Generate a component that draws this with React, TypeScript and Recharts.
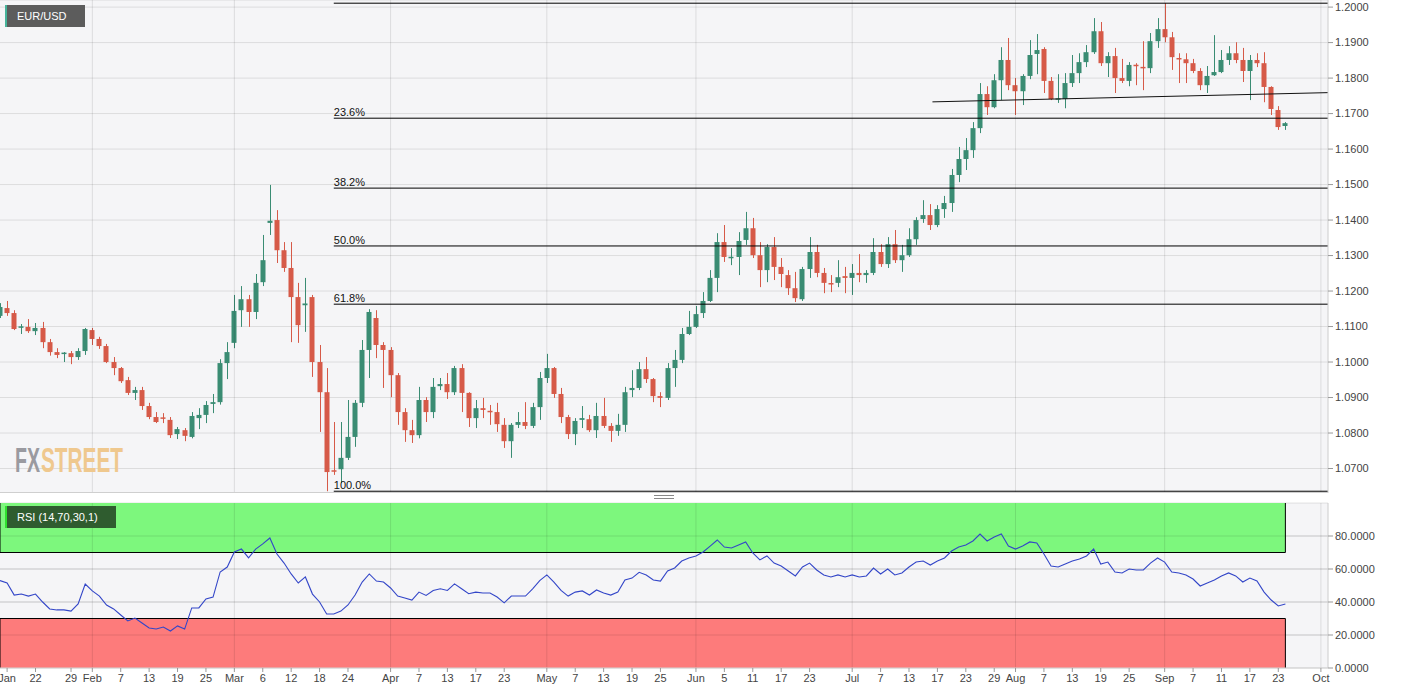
import React from 'react';
import {
  ComposedChart, Bar, Line, XAxis, YAxis, CartesianGrid, ReferenceLine, ReferenceArea,
} from 'recharts';

// ---- Data (EUR/USD daily, 15 Jan 2020 .. 24 Sep 2020, one entry per trading day) ----
const openP = [
  1.1130, 1.1152, 1.1138, 1.1097, 1.1099, 1.1087, 1.1096, 1.1056, 1.1028, 1.1023,
  1.1025, 1.1014, 1.1031, 1.1090, 1.1065, 1.1045, 1.1000, 1.0983, 1.0949, 1.0913,
  1.0921, 1.0876, 1.0845, 1.0843, 1.0837, 1.0797, 1.0808, 1.0789, 1.0842, 1.0851,
  1.0882, 1.0887, 1.0997, 1.1054, 1.1146, 1.1177, 1.1141, 1.1225, 1.1392, 1.1400,
  1.1315, 1.1265, 1.1183, 1.1160, 1.1183, 1.1000, 1.0915, 1.0694, 1.0698, 1.0730,
  1.0789, 1.0885, 1.1034, 1.1124, 1.1048, 1.1034, 1.0963, 1.0859, 1.0808, 1.0794,
  1.0893, 1.0859, 1.0932, 1.0938, 1.0915, 1.0983, 1.0913, 1.0842, 1.0870, 1.0862,
  1.0859, 1.0823, 1.0777, 1.0823, 1.0831, 1.0820, 1.0873, 1.0955, 1.0983, 1.0910,
  1.0845, 1.0797, 1.0837, 1.0839, 1.0808, 1.0848, 1.0820, 1.0806, 1.0823, 1.0921,
  1.0927, 1.0980, 1.0952, 1.0904, 1.0899, 1.0983, 1.1006, 1.1079, 1.1099, 1.1138,
  1.1172, 1.1237, 1.1338, 1.1293, 1.1296, 1.1344, 1.1377, 1.1301, 1.1259, 1.1324,
  1.1268, 1.1245, 1.1208, 1.1177, 1.1262, 1.1310, 1.1251, 1.1221, 1.1223, 1.1242,
  1.1237, 1.1251, 1.1245, 1.1251, 1.1310, 1.1276, 1.1332, 1.1287, 1.1301, 1.1346,
  1.1403, 1.1414, 1.1386, 1.1431, 1.1448, 1.1527, 1.1572, 1.1597, 1.1659, 1.1755,
  1.1718, 1.1794, 1.1851, 1.1780, 1.1763, 1.1806, 1.1868, 1.1882, 1.1792, 1.1740,
  1.1741, 1.1786, 1.1814, 1.1845, 1.1873, 1.1932, 1.1842, 1.1862, 1.1800, 1.1792,
  1.1837, 1.1831, 1.1828, 1.1904, 1.1938, 1.1915, 1.1856, 1.1853, 1.1842, 1.1820,
  1.1780, 1.1808, 1.1817, 1.1851, 1.1870, 1.1851, 1.1820, 1.1851, 1.1842, 1.1775,
  1.1710, 1.1665,
];
const highP = [
  1.1166, 1.1172, 1.1146, 1.1107, 1.1121, 1.1110, 1.1113, 1.1065, 1.1039, 1.1028,
  1.1031, 1.1039, 1.1096, 1.1096, 1.1071, 1.1051, 1.1014, 1.0986, 1.0958, 1.0930,
  1.0930, 1.0885, 1.0859, 1.0856, 1.0845, 1.0817, 1.0814, 1.0859, 1.0870, 1.0890,
  1.0910, 1.1008, 1.1056, 1.1189, 1.1214, 1.1189, 1.1248, 1.1358, 1.1499, 1.1428,
  1.1338, 1.1338, 1.1223, 1.1237, 1.1189, 1.1048, 1.0983, 1.0831, 1.0831, 1.0893,
  1.0893, 1.1062, 1.1149, 1.1146, 1.1056, 1.1042, 1.0969, 1.0870, 1.0837, 1.0930,
  1.0901, 1.0955, 1.0955, 1.0969, 1.0989, 1.0994, 1.0915, 1.0893, 1.0899, 1.0879,
  1.0885, 1.0842, 1.0828, 1.0859, 1.0887, 1.0885, 1.0972, 1.1023, 1.0986, 1.0927,
  1.0851, 1.0842, 1.0876, 1.0851, 1.0885, 1.0899, 1.0828, 1.0854, 1.0930, 1.0977,
  1.1000, 1.1014, 1.0955, 1.0915, 1.0997, 1.1034, 1.1096, 1.1144, 1.1158, 1.1197,
  1.1259, 1.1363, 1.1386, 1.1321, 1.1366, 1.1423, 1.1406, 1.1338, 1.1332, 1.1352,
  1.1293, 1.1259, 1.1254, 1.1268, 1.1352, 1.1330, 1.1265, 1.1245, 1.1287, 1.1268,
  1.1276, 1.1304, 1.1259, 1.1349, 1.1332, 1.1352, 1.1372, 1.1330, 1.1377, 1.1408,
  1.1456, 1.1445, 1.1442, 1.1468, 1.1544, 1.1606, 1.1631, 1.1676, 1.1786, 1.1777,
  1.1811, 1.1887, 1.1913, 1.1800, 1.1811, 1.1907, 1.1924, 1.1887, 1.1803, 1.1811,
  1.1814, 1.1865, 1.1870, 1.1893, 1.1969, 1.1958, 1.1873, 1.1885, 1.1854, 1.1845,
  1.1842, 1.1904, 1.1927, 1.1969, 1.2011, 1.1930, 1.1870, 1.1870, 1.1854, 1.1828,
  1.1834, 1.1921, 1.1879, 1.1890, 1.1901, 1.1885, 1.1865, 1.1870, 1.1873, 1.1777,
  1.1721, 1.1676,
];
const lowP = [
  1.1124, 1.1130, 1.1090, 1.1079, 1.1082, 1.1076, 1.1039, 1.1018, 1.1011, 1.1000,
  1.0994, 1.1006, 1.1020, 1.1048, 1.1037, 1.0997, 1.0963, 1.0941, 1.0907, 1.0893,
  1.0865, 1.0839, 1.0828, 1.0828, 1.0786, 1.0783, 1.0777, 1.0785, 1.0811, 1.0828,
  1.0856, 1.0880, 1.0952, 1.1039, 1.1099, 1.1099, 1.1121, 1.1214, 1.1358, 1.1279,
  1.1254, 1.1056, 1.1054, 1.1085, 1.0958, 1.0803, 1.0636, 1.0682, 1.0659, 1.0724,
  1.0761, 1.0873, 1.0955, 1.1011, 1.0927, 1.0901, 1.0823, 1.0775, 1.0772, 1.0785,
  1.0831, 1.0842, 1.0921, 1.0896, 1.0907, 1.0859, 1.0817, 1.0814, 1.0842, 1.0823,
  1.0803, 1.0758, 1.0730, 1.0814, 1.0811, 1.0814, 1.0837, 1.0941, 1.0899, 1.0828,
  1.0783, 1.0766, 1.0814, 1.0803, 1.0786, 1.0814, 1.0775, 1.0792, 1.0803, 1.0901,
  1.0921, 1.0941, 1.0887, 1.0873, 1.0893, 1.0930, 1.0997, 1.1076, 1.1096, 1.1124,
  1.1169, 1.1197, 1.1282, 1.1273, 1.1245, 1.1330, 1.1293, 1.1211, 1.1225, 1.1231,
  1.1211, 1.1189, 1.1169, 1.1172, 1.1237, 1.1239, 1.1194, 1.1197, 1.1211, 1.1194,
  1.1189, 1.1225, 1.1223, 1.1245, 1.1268, 1.1265, 1.1279, 1.1254, 1.1296, 1.1330,
  1.1392, 1.1372, 1.1380, 1.1406, 1.1423, 1.1507, 1.1541, 1.1575, 1.1645, 1.1696,
  1.1715, 1.1738, 1.1766, 1.1696, 1.1724, 1.1797, 1.1811, 1.1758, 1.1738, 1.1730,
  1.1715, 1.1775, 1.1786, 1.1831, 1.1868, 1.1834, 1.1803, 1.1758, 1.1786, 1.1777,
  1.1780, 1.1766, 1.1814, 1.1885, 1.1901, 1.1823, 1.1786, 1.1786, 1.1814, 1.1766,
  1.1758, 1.1806, 1.1814, 1.1837, 1.1842, 1.1789, 1.1738, 1.1831, 1.1732, 1.1696,
  1.1654, 1.1654,
];
const closeP = [
  1.1155, 1.1138, 1.1093, 1.1100, 1.1087, 1.1096, 1.1056, 1.1028, 1.1020, 1.1026,
  1.1014, 1.1031, 1.1093, 1.1065, 1.1045, 1.1000, 1.0983, 1.0946, 1.0913, 1.0921,
  1.0876, 1.0845, 1.0831, 1.0841, 1.0794, 1.0811, 1.0792, 1.0848, 1.0851, 1.0879,
  1.0887, 1.0997, 1.1028, 1.1144, 1.1177, 1.1141, 1.1223, 1.1287, 1.1398, 1.1315,
  1.1265, 1.1183, 1.1104, 1.1165, 1.1000, 1.0915, 1.0690, 1.0692, 1.0730, 1.0789,
  1.0885, 1.1034, 1.1141, 1.1048, 1.1034, 1.0963, 1.0859, 1.0808, 1.0794, 1.0893,
  1.0859, 1.0930, 1.0938, 1.0915, 1.0983, 1.0913, 1.0842, 1.0870, 1.0865, 1.0859,
  1.0825, 1.0777, 1.0823, 1.0831, 1.0820, 1.0873, 1.0955, 1.0983, 1.0910, 1.0845,
  1.0797, 1.0834, 1.0842, 1.0808, 1.0848, 1.0820, 1.0806, 1.0823, 1.0915, 1.0927,
  1.0980, 1.0952, 1.0904, 1.0899, 1.0983, 1.1006, 1.1079, 1.1099, 1.1135, 1.1172,
  1.1237, 1.1338, 1.1296, 1.1296, 1.1341, 1.1377, 1.1301, 1.1259, 1.1324, 1.1268,
  1.1248, 1.1208, 1.1180, 1.1262, 1.1310, 1.1251, 1.1223, 1.1220, 1.1239, 1.1237,
  1.1251, 1.1245, 1.1251, 1.1310, 1.1276, 1.1332, 1.1287, 1.1301, 1.1346, 1.1400,
  1.1414, 1.1386, 1.1431, 1.1448, 1.1527, 1.1572, 1.1597, 1.1659, 1.1755, 1.1718,
  1.1794, 1.1851, 1.1780, 1.1763, 1.1806, 1.1865, 1.1879, 1.1792, 1.1741, 1.1742,
  1.1786, 1.1814, 1.1845, 1.1873, 1.1932, 1.1842, 1.1862, 1.1800, 1.1792, 1.1837,
  1.1834, 1.1828, 1.1904, 1.1938, 1.1915, 1.1859, 1.1853, 1.1842, 1.1820, 1.1780,
  1.1806, 1.1817, 1.1851, 1.1870, 1.1851, 1.1820, 1.1851, 1.1842, 1.1775, 1.1713,
  1.1662, 1.1673,
];
const rsiV = [
  53.0, 51.5, 44.2, 44.8, 43.6, 44.8, 40.0, 35.8, 35.2, 35.2,
  34.5, 38.8, 50.9, 46.7, 43.6, 38.2, 35.8, 32.1, 28.5, 30.3,
  27.3, 24.2, 23.6, 24.8, 22.4, 25.5, 23.6, 36.4, 36.4, 41.8,
  43.0, 58.2, 61.2, 70.3, 72.1, 66.7, 72.1, 75.2, 78.8, 69.1,
  63.6, 57.0, 51.5, 55.2, 44.8, 40.0, 32.7, 32.7, 34.5, 38.2,
  44.2, 52.1, 57.0, 52.7, 52.1, 48.5, 43.6, 42.4, 41.2, 46.0,
  44.0, 47.0, 48.0, 47.0, 51.0, 48.0, 45.0, 46.0, 45.5, 45.5,
  43.0, 39.5, 43.6, 43.6, 43.6, 48.0, 53.0, 56.4, 52.0, 47.0,
  43.6, 46.0, 46.7, 44.2, 47.3, 45.5, 44.2, 46.0, 53.3, 54.5,
  58.0, 56.4, 53.3, 52.7, 58.8, 60.6, 64.8, 66.7, 67.9, 70.3,
  73.9, 77.6, 73.3, 72.7, 74.5, 76.4, 69.7, 65.5, 67.9, 63.6,
  61.8, 58.8, 55.8, 61.2, 63.6, 59.4, 56.4, 55.2, 56.4, 55.2,
  56.4, 55.2, 55.8, 60.6, 57.0, 60.0, 56.4, 57.6, 61.2, 64.2,
  64.8, 62.4, 64.8, 66.7, 70.9, 73.3, 74.5, 77.0, 81.2, 77.0,
  79.4, 81.2, 73.9, 72.1, 73.9, 76.4, 75.8, 69.1, 61.8, 61.2,
  63.0, 64.8, 66.0, 67.9, 72.1, 63.0, 64.2, 58.2, 57.6, 60.0,
  59.4, 59.4, 63.6, 66.7, 64.2, 58.2, 57.6, 56.4, 53.9, 49.7,
  51.5, 53.3, 55.8, 57.6, 55.8, 52.1, 54.5, 52.7, 46.0, 41.2,
  37.6, 38.8,
];

const xTickIdx = [1, 5, 10, 13, 17, 21, 25, 29, 33, 37, 41, 45, 49, 55, 59, 63, 67, 71, 77, 81, 85, 89, 93,
  98, 102, 106, 110, 114, 120, 124, 128, 132, 136, 140, 143, 147, 151, 155, 159, 164, 168, 172, 176, 180, 186];
const xTickLabels = ['Jan', '22', '29', 'Feb', '7', '13', '19', '25', 'Mar', '6', '12', '18', '24', 'Apr', '7',
  '13', '17', '23', 'May', '7', '13', '19', '25', 'Jun', '5', '11', '17', '23', 'Jul', '7', '13', '17', '23', '29',
  'Aug', '7', '13', '19', '25', 'Sep', '7', '11', '17', '23', 'Oct'];
const monthStartIdx = [13, 33, 55, 77, 98, 120, 143, 164, 186];
const priceTicks = [1.07, 1.08, 1.09, 1.10, 1.11, 1.12, 1.13, 1.14, 1.15, 1.16, 1.17, 1.18, 1.19, 1.20];
const rsiTicks = [0, 20, 40, 60, 80];
const fibLevels = [1.2011, 1.1687, 1.1490, 1.1327, 1.1163, 1.0636];
const fibLabels = ['', '23.6%', '38.2%', '50.0%', '61.8%', '100.0%'];
const fibStartIdx = 47;
const trendIdx = [131.3, 187];
const trendPrice = [1.1733, 1.1759];
const rsiBands = [70, 30];

const X_MAX = 187;
const LAST_IDX = openP.length - 1;
const GREEN = '#3a8c73';
const RED = '#d65a48';
const PLOT_BG = '#f5f5f7';
const GRID_STROKE = '#000';
const GRID_OPACITY = 0.1;
const FONT = '"Liberation Sans", Arial, Helvetica, sans-serif';

const rows = openP.map((o, i) => ({
  i, o, h: highP[i], l: lowP[i], c: closeP[i], rsi: rsiV[i],
}));

const Candle = (props: any) => {
  let { x, y, width, height } = props;
  const d = props.payload || props;
  if (x == null || y == null || !d) return null;
  if (height < 0) { y += height; height = -height; }
  const { o, h, l, c } = d;
  const up = c >= o;
  const color = up ? GREEN : RED;
  const range = h - l || 1e-9;
  const k = height / range;
  const yO = y + (h - o) * k;
  const yC = y + (h - c) * k;
  let top = Math.min(yO, yC);
  let bh = Math.abs(yO - yC);
  if (bh < 1.5) { top = (yO + yC) / 2 - 0.75; bh = 1.5; }
  const cx = Math.round(x + width / 2) + 0.5;
  const bx = cx - 0.5 - 2.5;
  return (
    <g>
      <line x1={cx} x2={cx} y1={y} y2={y + height} stroke={color} strokeWidth={1} />
      <rect x={bx} y={top} width={5} height={bh} fill={color} />
    </g>
  );
};

const FibText = (props: any) => {
  const vb = props.viewBox || {};
  if (!props.text) return null;
  return (
    <text x={vb.x} y={(vb.y ?? 0) - 2} fontSize={11} fill="#111" fontFamily={FONT} textAnchor="start">
      {props.text}
    </text>
  );
};

const priceFmt = (v: number) => v.toFixed(4);
const rsiFmt = (v: number) => v.toFixed(4);
const xFmt = (v: number) => {
  const k = xTickIdx.indexOf(v);
  return k >= 0 ? xTickLabels[k] : '';
};

const axisTick = { fontSize: 11, fill: '#444', fontFamily: FONT };

export default function App() {
  return (
    <div style={{ position: 'absolute', left: 0, top: 0, width: 1405, height: 695, background: '#fff', overflow: 'hidden', fontFamily: FONT }}>
      {/* Main price panel */}
      <div style={{ position: 'absolute', left: 0, top: 0 }}>
        <ComposedChart width={1405} height={493} data={rows} margin={{ top: 0, right: 0, bottom: 0, left: 0 }}>
          <CartesianGrid vertical={false} stroke={GRID_STROKE} strokeOpacity={GRID_OPACITY} fill={PLOT_BG} />
          <XAxis dataKey="i" type="number" domain={[0, X_MAX]} allowDataOverflow hide />
          <YAxis
            orientation="right"
            width={77}
            type="number"
            domain={[1.0631, 1.2020]}
            allowDataOverflow
            ticks={priceTicks}
            tickFormatter={priceFmt}
            tick={axisTick}
            tickSize={5}
            tickLine={{ stroke: '#999' }}
            axisLine={{ stroke: '#ccc' }}
            interval={0}
          />
          {monthStartIdx.map((m) => (
            <ReferenceLine key={'vm' + m} x={m} stroke={GRID_STROKE} strokeOpacity={GRID_OPACITY} strokeWidth={1} />
          ))}
          <Bar
            dataKey={(d: any) => [d.l, d.h]}
            shape={<Candle />}
            barSize={5}
            isAnimationActive={false}
          />
          {fibLevels.map((v, k) => (
            <ReferenceLine
              key={'fib' + k}
              segment={[{ x: fibStartIdx, y: v }, { x: X_MAX, y: v }]}
              stroke="#000"
              strokeWidth={1}
              ifOverflow="visible"
              label={<FibText text={fibLabels[k]} />}
            />
          ))}
          <ReferenceLine
            segment={[{ x: trendIdx[0], y: trendPrice[0] }, { x: trendIdx[1], y: trendPrice[1] }]}
            stroke="#111"
            strokeWidth={1}
            ifOverflow="visible"
          />
        </ComposedChart>
      </div>

      {/* bottom border of main panel and splitter handle */}
      <div style={{ position: 'absolute', left: 0, top: 492, width: 1328, height: 1, background: '#cfcfcf' }} />
      <div style={{ position: 'absolute', left: 654, top: 495, width: 20, height: 1, background: '#888' }} />
      <div style={{ position: 'absolute', left: 654, top: 498, width: 20, height: 1, background: '#888' }} />

      {/* RSI panel */}
      <div style={{ position: 'absolute', left: 0, top: 495 }}>
        <ComposedChart width={1405} height={200} data={rows} margin={{ top: 8, right: 0, bottom: 0, left: 0 }}>
          <CartesianGrid vertical={false} stroke={GRID_STROKE} strokeOpacity={GRID_OPACITY} fill={PLOT_BG} />
          <XAxis
            dataKey="i"
            type="number"
            domain={[0, X_MAX]}
            allowDataOverflow
            ticks={xTickIdx}
            tickFormatter={xFmt}
            interval={0}
            height={27}
            tick={axisTick}
            tickSize={4}
            tickLine={{ stroke: '#999' }}
            axisLine={{ stroke: '#ddd' }}
          />
          <YAxis
            orientation="right"
            width={77}
            type="number"
            domain={[0, 100]}
            allowDataOverflow
            ticks={rsiTicks}
            tickFormatter={rsiFmt}
            tick={axisTick}
            tickSize={5}
            tickLine={{ stroke: '#999' }}
            axisLine={{ stroke: '#ccc' }}
            interval={0}
          />
          <ReferenceArea x1={0} x2={LAST_IDX} y1={rsiBands[0]} y2={100} fill="#7df77d" fillOpacity={1} stroke="none" ifOverflow="visible" />
          <ReferenceArea x1={0} x2={LAST_IDX} y1={0} y2={rsiBands[1]} fill="#fd7b7b" fillOpacity={1} stroke="none" ifOverflow="visible" />
          {monthStartIdx.map((m) => (
            <ReferenceLine key={'vr' + m} x={m} stroke={GRID_STROKE} strokeOpacity={GRID_OPACITY} strokeWidth={1} />
          ))}
          {rsiTicks.map((t) => (
            <ReferenceLine key={'hr' + t} y={t} stroke={GRID_STROKE} strokeOpacity={GRID_OPACITY} strokeWidth={1} />
          ))}
          <ReferenceLine segment={[{ x: 0, y: rsiBands[0] }, { x: LAST_IDX, y: rsiBands[0] }]} stroke="#000" />
          <ReferenceLine segment={[{ x: 0, y: rsiBands[1] }, { x: LAST_IDX, y: rsiBands[1] }]} stroke="#000" />
          <ReferenceLine segment={[{ x: LAST_IDX, y: rsiBands[0] }, { x: LAST_IDX, y: 100 }]} stroke="#000" />
          <ReferenceLine segment={[{ x: LAST_IDX, y: 0 }, { x: LAST_IDX, y: rsiBands[1] }]} stroke="#000" />
          <ReferenceLine segment={[{ x: 0, y: rsiBands[0] }, { x: 0, y: 100 }]} stroke="#000" />
          <ReferenceLine segment={[{ x: 0, y: 0 }, { x: 0, y: rsiBands[1] }]} stroke="#000" />
          <Line
            dataKey="rsi"
            type="linear"
            stroke="#3346c8"
            strokeWidth={1.1}
            dot={false}
            activeDot={false}
            isAnimationActive={false}
          />
        </ComposedChart>
      </div>

      {/* Instrument label */}
      <div style={{
        position: 'absolute', left: 5, top: 5, width: 80, height: 22, background: '#5c5c5c',
        borderLeft: '2px solid #46b39a', color: '#fff', fontSize: 11, lineHeight: '22px',
        paddingLeft: 10, boxSizing: 'border-box',
      }}>EUR/USD</div>

      {/* RSI label */}
      <div style={{
        position: 'absolute', left: 5, top: 506, height: 22, width: 111, background: '#2f5c2f',
        borderLeft: '2px solid #2fe02f', color: '#fff', fontSize: 11, lineHeight: '22px',
        paddingLeft: 10, boxSizing: 'border-box',
      }}>RSI (14,70,30,1)</div>

      {/* Watermark */}
      <svg style={{ position: 'absolute', left: 0, top: 440 }} width={140} height={40}>
        <text x={15} y={32} fontSize={35} fontWeight="bold" fill="#9a9aa0" fontFamily={FONT}
          textLength={25} lengthAdjust="spacingAndGlyphs">FX</text>
        <text x={41} y={32} fontSize={35} fontWeight="bold" fill="#efc88e" fontFamily={FONT}
          textLength={82} lengthAdjust="spacingAndGlyphs">STREET</text>
      </svg>
    </div>
  );
}
